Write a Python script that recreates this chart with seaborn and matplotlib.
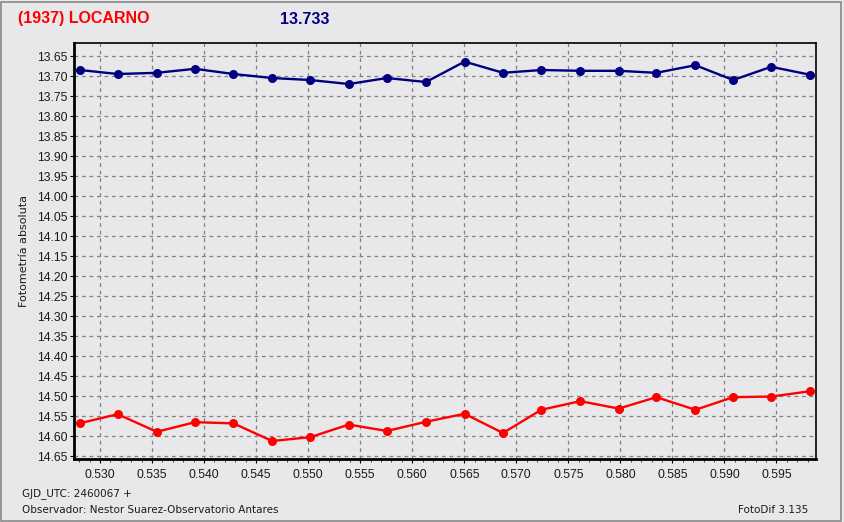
import pandas as pd
import seaborn as sns
import matplotlib.pyplot as plt
from matplotlib.patches import Rectangle
from matplotlib.ticker import MultipleLocator, FormatStrFormatter

# GJD_UTC offsets (2460067 +)
jd = [0.52808, 0.53170, 0.53545, 0.53913, 0.54282, 0.54654, 0.55019,
      0.55391, 0.55757, 0.56132, 0.56503, 0.56872, 0.57240, 0.57615,
      0.57984, 0.58346, 0.58721, 0.59084, 0.59449, 0.59827]
comparison = [13.685, 13.695, 13.692, 13.682, 13.695, 13.705, 13.710,
              13.720, 13.705, 13.715, 13.664, 13.692, 13.685, 13.687,
              13.687, 13.692, 13.673, 13.710, 13.677, 13.697]
target = [14.5675, 14.545, 14.589, 14.565, 14.568, 14.612, 14.6025,
          14.571, 14.587, 14.564, 14.544, 14.592, 14.534, 14.5125,
          14.531, 14.5025, 14.534, 14.5025, 14.501, 14.4875]

bg = '#E8E8EB'
sns.set_theme(style='ticks')
plt.rcParams['font.family'] = ['Liberation Sans', 'DejaVu Sans']

fig = plt.figure(figsize=(8.44, 5.22), dpi=100, facecolor=bg)
ax = fig.add_axes([74 / 844, 1 - 459 / 522, 742 / 844, 416 / 522])
ax.set_facecolor(bg)

df = pd.DataFrame({'jd': jd, 'comp': comparison, 'target': target})
line_kw = dict(linewidth=1.7, marker='o', markersize=6.5, markeredgewidth=0)
sns.lineplot(data=df, x='jd', y='comp', ax=ax, color='#000080', **line_kw)
sns.lineplot(data=df, x='jd', y='target', ax=ax, color='#FF0000', **line_kw)

ax.set_xlim(0.5275, 0.5988)
ax.set_ylim(14.657, 13.6175)

ax.xaxis.set_major_locator(MultipleLocator(0.005))
ax.xaxis.set_minor_locator(MultipleLocator(0.001))
ax.xaxis.set_major_formatter(FormatStrFormatter('%.3f'))
ax.yaxis.set_major_locator(MultipleLocator(0.05))
ax.yaxis.set_major_formatter(FormatStrFormatter('%.2f'))

ax.grid(axis='both', which='major', color='#808080', linestyle=(0, (3, 3)),
        linewidth=0.9)
ax.tick_params(axis='both', which='major', labelsize=8.8, length=3,
               width=0.8, color='black', labelcolor='#1a1a1a')
ax.tick_params(axis='y', which='major', pad=1.5)
ax.tick_params(axis='x', which='major', pad=4)
ax.tick_params(axis='x', which='minor', length=2, width=0.6)
ax.tick_params(axis='y', which='minor', length=0)

for side in ('left', 'bottom'):
    ax.spines[side].set_linewidth(2)
for side in ('top', 'right'):
    ax.spines[side].set_linewidth(1.2)
for s in ax.spines.values():
    s.set_color('black')

ax.set_xlabel('')
ax.set_ylabel('Fotometría absoluta', fontsize=8, color='#1a1a1a',
              family=['DejaVu Sans'], labelpad=6)

fig.text(18 / 844, 1 - 19 / 522, '(1937) LOCARNO', color='#FF0000',
         fontsize=11.5, fontweight='bold', va='center', ha='left')
fig.text(280 / 844, 1 - 19 / 522, '13.733', color='#000080',
         fontsize=11.5, fontweight='bold', va='center', ha='left')

small = dict(fontsize=7.5, color='#1a1a1a', family=['DejaVu Sans'],
             va='center')
fig.text(22 / 844, 1 - 494 / 522, 'GJD_UTC: 2460067 +', ha='left', **small)
fig.text(22 / 844, 1 - 510 / 522,
         'Observador: Nestor Suarez-Observatorio Antares', ha='left', **small)
fig.text(808 / 844, 1 - 510 / 522, 'FotoDif 3.135', ha='right', **small)

fig.patches.append(Rectangle((0.001, 0.002), 0.996, 0.995,
                             transform=fig.transFigure, fill=False,
                             edgecolor='#888888', linewidth=1.2))

fig.savefig('out.png', dpi=100, facecolor=bg)
